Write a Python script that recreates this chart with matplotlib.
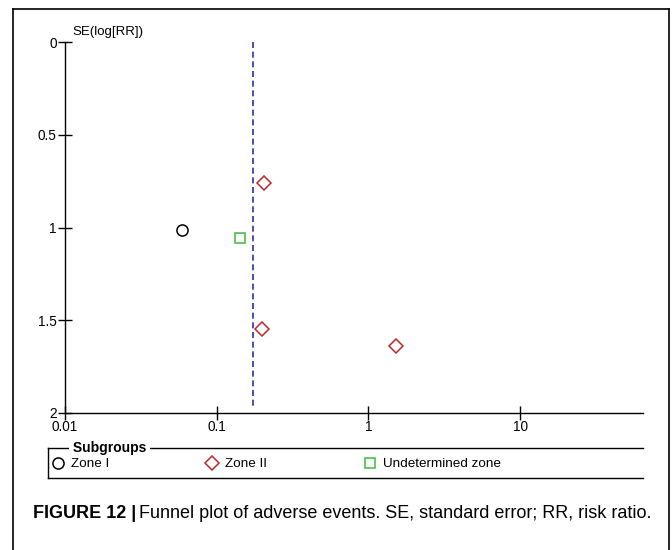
import matplotlib.pyplot as plt
from matplotlib.lines import Line2D

plt.rcParams["font.family"] = ["Liberation Sans", "DejaVu Sans"]

# study estimates
zone1_rr = [0.059]
zone1_se = [1.013]
zone2_rr = [0.204, 0.198, 1.51]
zone2_se = [0.759, 1.545, 1.637]
undet_rr = [0.142]
undet_se = [1.057]
pooled_rr = 0.173

xticks = [0.01, 0.1, 1, 10]
xtick_labels = ["0.01", "0.1", "1", "10"]
yticks = [0, 0.5, 1, 1.5, 2]
ytick_labels = ["0", "0.5", "1", "1.5", "2"]

fig = plt.figure(figsize=(6.72, 5.5), dpi=100)
ax = fig.add_axes([65 / 672, 1 - 413 / 550, (643 - 65) / 672, (413 - 42) / 550])

ax.set_xscale("log")
ax.set_xlim(0.01, 64.6)
ax.set_ylim(2, 0)

ax.plot([pooled_rr, pooled_rr], [0, 1.97], ls=(0, (3.6, 2.2)), color="#2f2f9e", lw=1.2)
h1, = ax.plot(zone1_rr, zone1_se, "o", ms=8, mfc="none", mec="black", mew=1.1, ls="none", label="Zone I")
h2, = ax.plot(zone2_rr, zone2_se, "D", ms=7.6, mfc="none", mec="#c0282d", mew=1.1, ls="none", label="Zone II")
h3, = ax.plot(undet_rr, undet_se, "s", ms=7.3, mfc="none", mec="#3cba3c", mew=1.1, ls="none", label="Undetermined zone")

for s in ["top", "right"]:
    ax.spines[s].set_visible(False)
ax.spines["left"].set_linewidth(1.0)
ax.spines["bottom"].set_linewidth(1.0)

ax.set_xticks(xticks)
ax.set_xticklabels(xtick_labels)
ax.xaxis.set_minor_locator(plt.NullLocator())
ax.set_yticks(yticks)
ax.set_yticklabels(ytick_labels)
ax.tick_params(direction="inout", length=10, width=1.0, labelsize=9.8, pad=1, color="black")
ax.tick_params(axis="x", pad=0)

ax.text(72 / 672, 1 - 38 / 550, "SE(log[RR])", transform=fig.transFigure, fontsize=9.5, va="bottom", ha="left")

# legend box
leg_l, leg_r, leg_t, leg_b = 48 / 672, 643 / 672, 1 - 448 / 550, 1 - 478 / 550
for xs, ys in [([leg_l, leg_r], [leg_t, leg_t]), ([leg_l, leg_r], [leg_b, leg_b]), ([leg_l, leg_l], [leg_t, leg_b])]:
    fig.add_artist(Line2D(xs, ys, transform=fig.transFigure, color="black", lw=1.0))
fig.text(69 / 672, leg_t, " Subgroups ", fontsize=10, fontweight="bold", va="center", ha="left",
         bbox=dict(facecolor="white", edgecolor="none", pad=0))
fig.legend(handles=[h1, h2, h3], loc="center left", bbox_to_anchor=(51 / 672, 1 - 464 / 550),
           ncol=3, frameon=False, fontsize=9.7, handlelength=1.0, handletextpad=0.5,
           columnspacing=7.1, borderpad=0, borderaxespad=0)

# outer frame
for xs, ys in [([13 / 672, 13 / 672], [0, 1 - 9 / 550]), ([13 / 672, 669 / 672], [1 - 9 / 550, 1 - 9 / 550]),
               ([669 / 672, 669 / 672], [0, 1 - 9 / 550])]:
    fig.add_artist(Line2D(xs, ys, transform=fig.transFigure, color="black", lw=1.2))

# caption
bold = fig.text(33 / 672, 1 - 513 / 550, "FIGURE 12 |", fontsize=13, fontweight="bold", va="center", ha="left")
fig.canvas.draw()
bb = bold.get_window_extent().transformed(fig.transFigure.inverted())
fig.text(bb.x1 + 3 / 672, 1 - 513 / 550, "Funnel plot of adverse events. SE, standard error; RR, risk ratio.",
         fontsize=12.95, va="center", ha="left")

fig.savefig("out.png", dpi=100)
